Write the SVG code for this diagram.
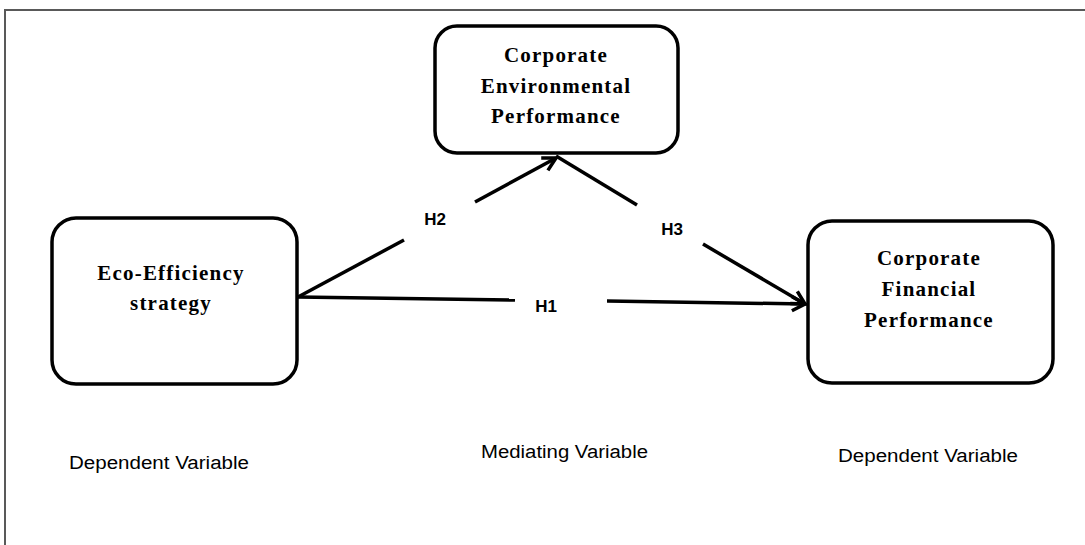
<svg xmlns="http://www.w3.org/2000/svg" width="1085" height="545" viewBox="0 0 1085 545">
<style>
.box{fill:#fff;stroke:#000;stroke-width:3.5}
.title{font-family:"Liberation Serif","Times New Roman",serif;font-weight:bold;font-size:21px;letter-spacing:1.2px;text-anchor:middle;fill:#000}
.conn{stroke:#000;stroke-width:3.5;fill:none;stroke-linecap:butt}
.hl{font-family:"Liberation Sans",Arial,sans-serif;font-weight:bold;font-size:17px;text-anchor:middle;fill:#000}
.cap{font-family:"Liberation Sans",Arial,sans-serif;font-size:18px;fill:#000}
</style>
<defs>
<marker id="arr" markerUnits="userSpaceOnUse" markerWidth="20" markerHeight="20" viewBox="0 0 20 20" refX="17" refY="10" orient="auto">
<path d="M4,3 L17,10 L4,17" fill="none" stroke="#000" stroke-width="3.5"/>
</marker>
</defs>
<rect width="1085" height="545" fill="#fff"/>
<path d="M5,545 L5,10 L1085,10" fill="none" stroke="#595959" stroke-width="2"/>
<g id="connectors">
<g id="h1">
<line class="conn" x1="298" y1="297" x2="515" y2="300"/>
<line class="conn" x1="607" y1="301" x2="805" y2="304" marker-end="url(#arr)"/>
<text class="hl" x="546" y="312">H1</text>
</g>
<g id="h2">
<line class="conn" x1="298" y1="297" x2="404" y2="240"/>
<line class="conn" x1="475" y1="202" x2="556" y2="158" marker-end="url(#arr)"/>
<text class="hl" x="435" y="225">H2</text>
</g>
<g id="h3">
<line class="conn" x1="556" y1="156" x2="637" y2="205"/>
<line class="conn" x1="703" y1="244" x2="805" y2="304" marker-end="url(#arr)"/>
<text class="hl" x="672" y="235">H3</text>
</g>
</g>
<g id="node-cep">
<rect class="box" x="435" y="26" width="243" height="127" rx="22"/>
<text class="title" x="556" y="62">Corporate</text>
<text class="title" x="556" y="93">Environmental</text>
<text class="title" x="556" y="123">Performance</text>
</g>
<g id="node-ees">
<rect class="box" x="52" y="218" width="245" height="166" rx="24"/>
<text class="title" x="171" y="280">Eco-Efficiency</text>
<text class="title" x="171" y="310">strategy</text>
</g>
<g id="node-cfp">
<rect class="box" x="808" y="221" width="245" height="162" rx="24"/>
<text class="title" x="929" y="265">Corporate</text>
<text class="title" x="929" y="296">Financial</text>
<text class="title" x="929" y="327">Performance</text>
</g>
<g id="captions">
<text class="cap" x="69" y="469" textLength="180" lengthAdjust="spacingAndGlyphs">Dependent Variable</text>
<text class="cap" x="481" y="458" textLength="167" lengthAdjust="spacingAndGlyphs">Mediating Variable</text>
<text class="cap" x="838" y="462" textLength="180" lengthAdjust="spacingAndGlyphs">Dependent Variable</text>
</g>
</svg>
